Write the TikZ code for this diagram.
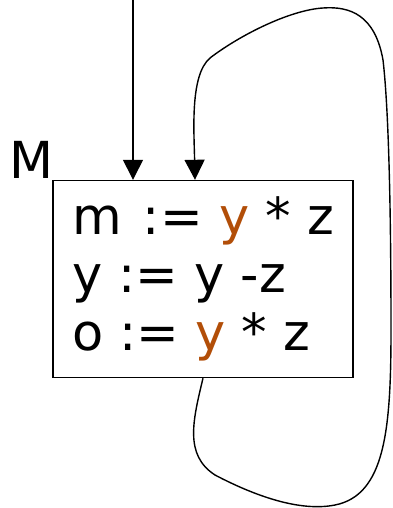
\documentclass[tikz,border=0pt]{standalone}
\usepackage{fontspec}
\setmainfont{DejaVu Sans}
\usetikzlibrary{arrows.meta, calc}
\definecolor{varbrown}{RGB}{178,78,8}
\newcommand{\hlvar}[1]{\textcolor{varbrown}{#1}}

\begin{document}
\begin{tikzpicture}[
  x=1pt, y=-1pt,
  every node/.style={font=\fontsize{51}{58}\selectfont},
  block/.style={rectangle, draw=black, line width=1.4pt, minimum width=300pt,
    minimum height=197pt, align=left, inner sep=0pt},
  arr/.style={-{Triangle[length=20pt, width=20pt]}, line width=1.4pt}
]
\useasboundingbox (0,0) rectangle (392,508);

% ===== BLOCK =====
\node[block] (blk) at (203,279) {m\hspace{5pt} := \hlvar{y} * z\\y := y -z\\o := \hlvar{y} * z};
\node[anchor=base west, inner sep=0pt] (lbl) at (9,178) {M};

% ===== ENTRY =====
\coordinate (entry) at (133,0);
\draw[arr] (entry) -- (entry |- blk.north);

% ===== BACK EDGE =====
\draw[arr] (blk.south) .. controls (193,420) and (184,455) .. (215,475)
  .. controls (255,496) and (300,512) .. (335,505)
  .. controls (385,495) and (391,430) .. (391,330)
  .. controls (391,250) and (390,120) .. (383,60)
  .. controls (375,15) and (350,6) .. (323,8)
  .. controls (290,10) and (240,35) .. (210,58)
  .. controls (190,75) and (194,130) .. ([xshift=-8pt]blk.north);
\end{tikzpicture}
\end{document}
